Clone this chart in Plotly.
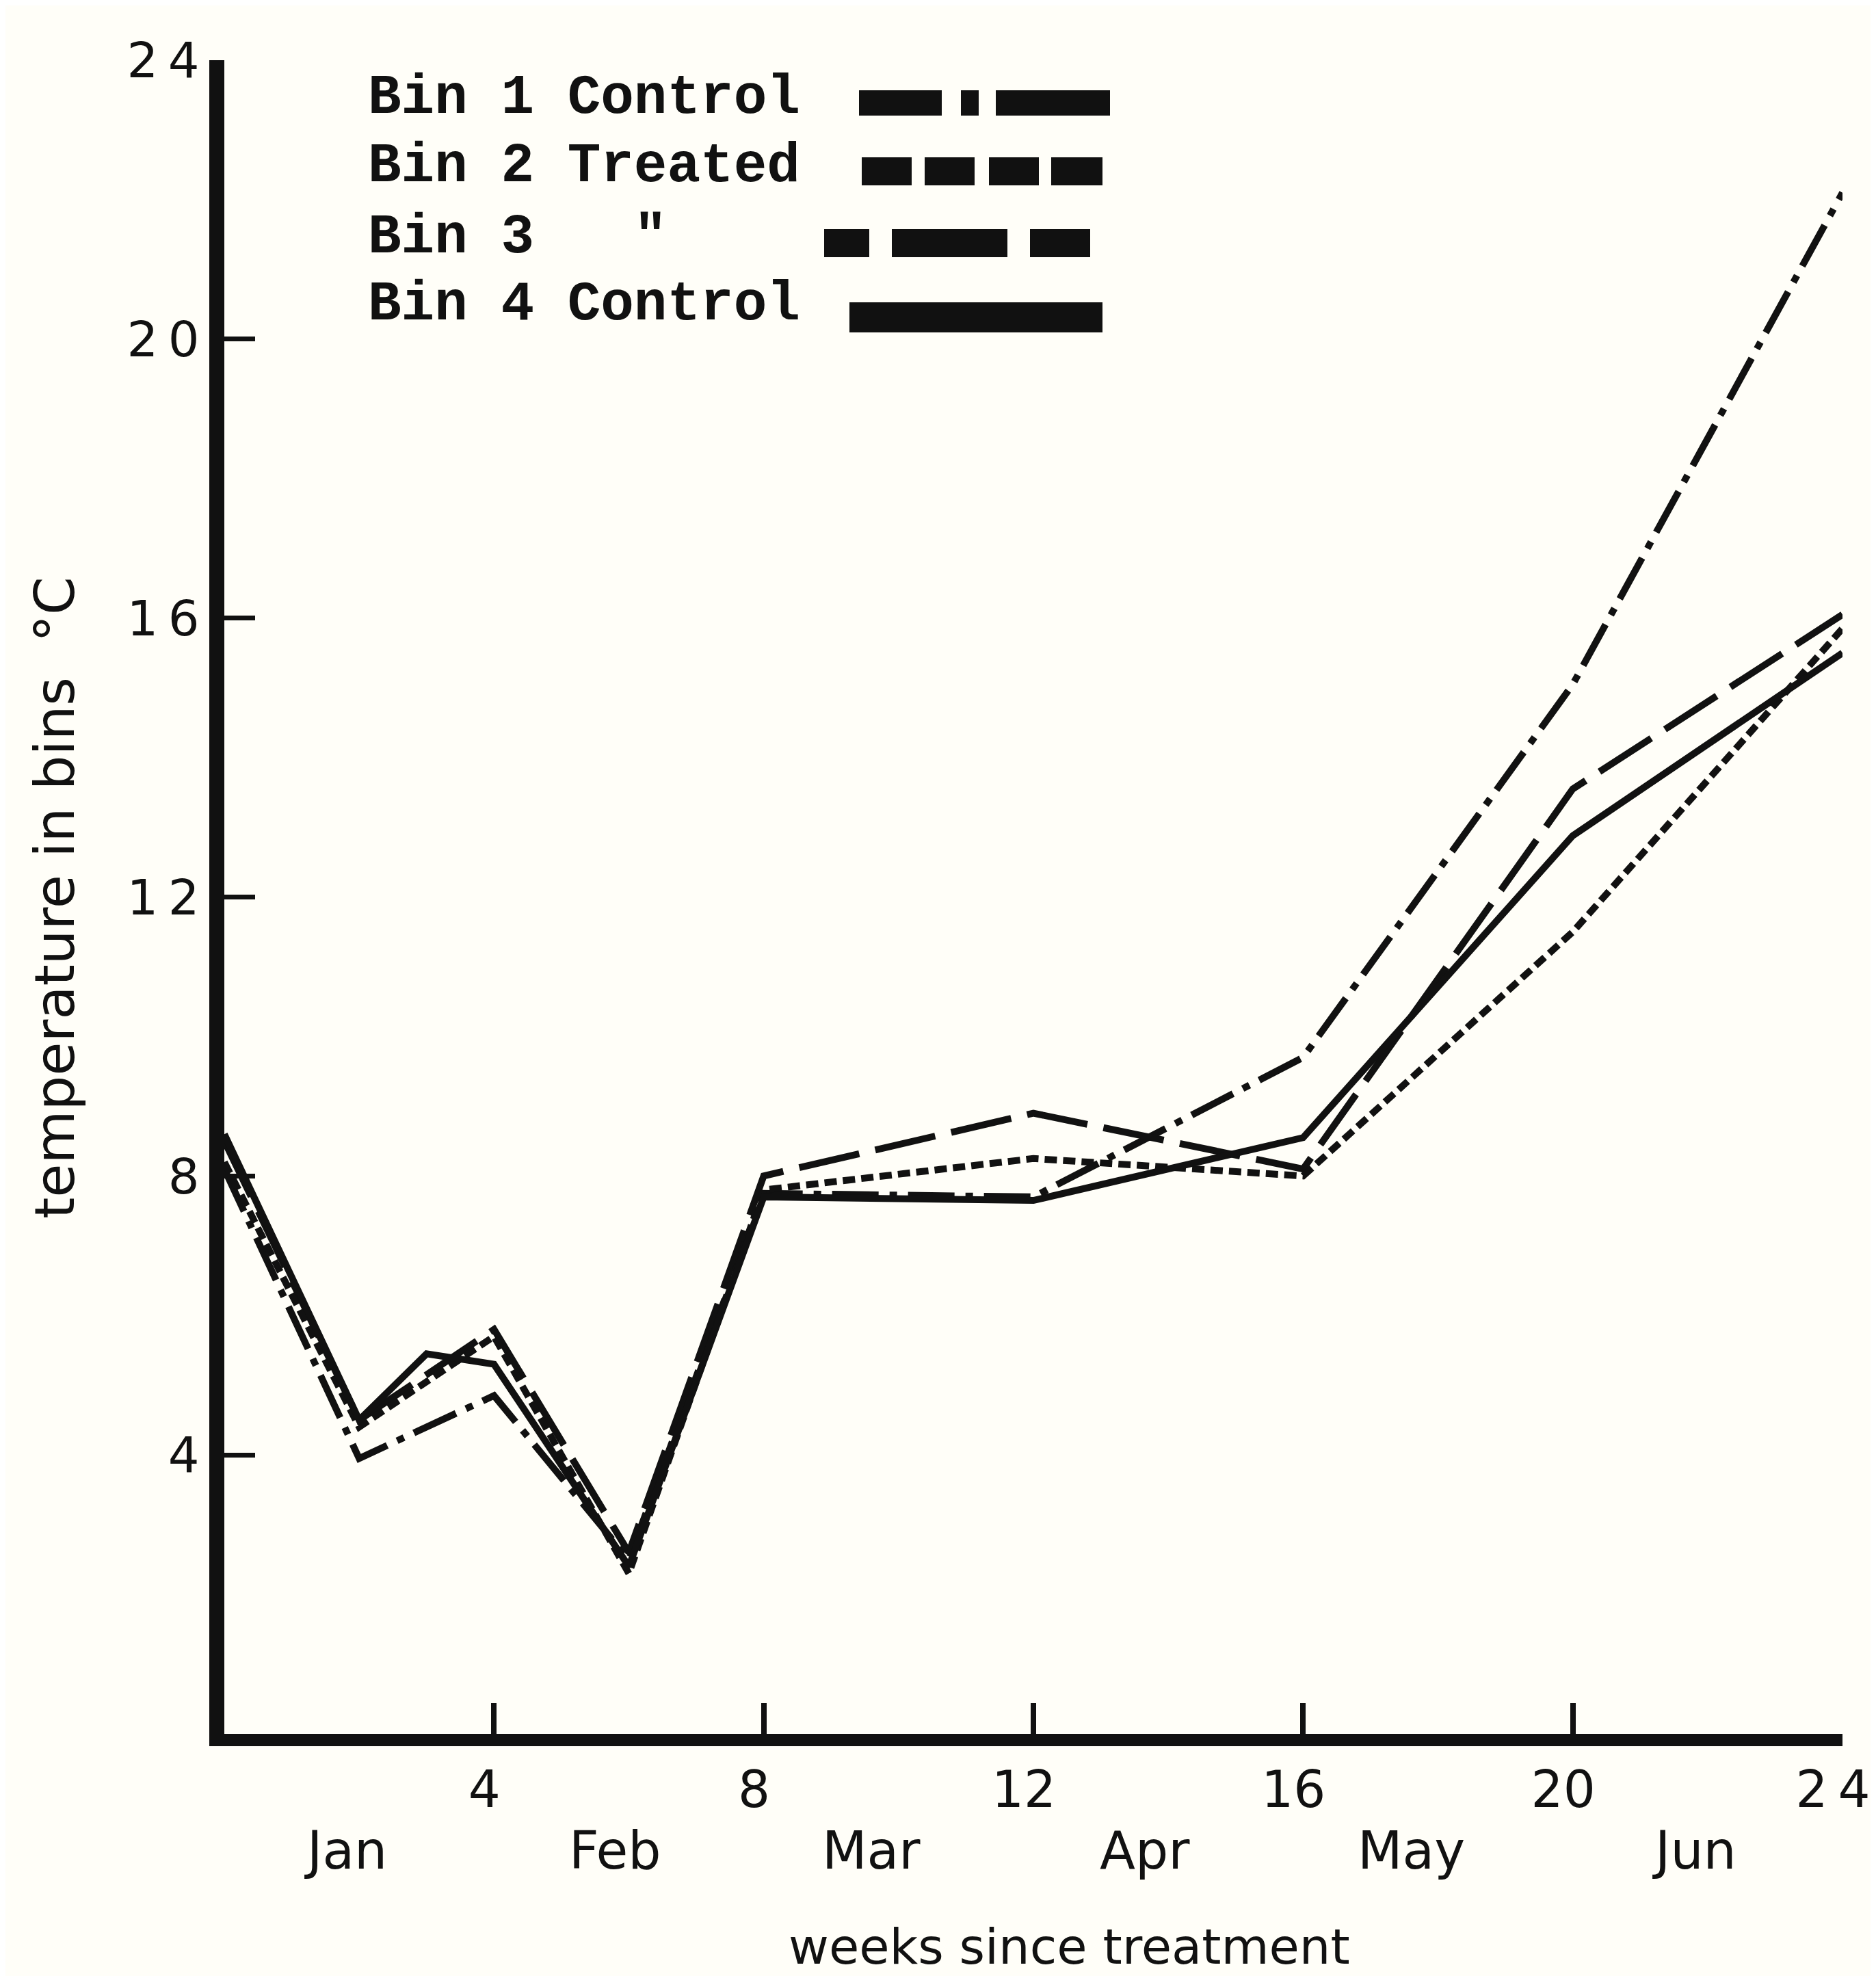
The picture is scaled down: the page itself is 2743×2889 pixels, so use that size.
import plotly.graph_objects as go

# ---------------- data ----------------
bin1_weeks = [0, 2, 4, 6, 8, 12, 16, 20, 24]
bin1_temp = [8.1, 3.95, 4.85, 2.5, 7.75, 7.7, 9.7, 15.05, 22.1]

bin2_weeks = [0, 2, 4, 6, 8, 12, 16, 20, 24]
bin2_temp = [8.5, 4.5, 5.8, 2.6, 8.0, 8.9, 8.1, 13.55, 16.05]

bin3_weeks = [0, 2, 4, 6, 8, 12, 16, 20, 24]
bin3_temp = [8.2, 4.4, 5.7, 2.3, 7.8, 8.25, 8.0, 11.5, 15.85]

bin4_weeks = [0, 2, 3, 4, 6, 8, 12, 16, 20, 24]
bin4_temp = [8.6, 4.5, 5.45, 5.3, 2.4, 7.7, 7.65, 8.55, 12.88, 15.5]

x_ticks = [4, 8, 12, 16, 20, 24]
x_ticktext = ["4", "8", "12", "16", "20", "2\u20094"]
y_ticks = [4, 8, 12, 16, 20, 24]
y_ticktext = ["4", "8", "1\u20092", "1\u20096", "2\u20090", "2\u20094"]

months = ["Jan", "Feb", "Mar", "Apr", "May", "Jun"]
month_pos = [1.8, 5.8, 9.6, 13.65, 17.6, 21.8]

legend_labels = ["Bin 1 Control", "Bin 2 Treated", "Bin 3   \"", "Bin 4 Control"]

# ---------------- layout geometry ----------------
FIG_W, FIG_H = 2743, 2889
L, R, T, B = 320, 2686, 80, 2527
PW, PH = R - L, B - T
INK = "#111111"
BG = "#fffef8"


def px(xp):
    return (xp - L) / PW


def py(yp):
    return (B - yp) / PH


fig = go.Figure()

styles = [
    ("Bin 1 Control", bin1_weeks, bin1_temp, "68px,16px,11px,16px", 10),
    ("Bin 2 Treated", bin2_weeks, bin2_temp, "90px,24px", 10),
    ("Bin 3 Treated", bin3_weeks, bin3_temp, "18px,9px", 10),
    ("Bin 4 Control", bin4_weeks, bin4_temp, "solid", 10),
]
for name, xs, ys, dash, w in styles:
    fig.add_trace(go.Scatter(
        x=xs, y=ys, mode="lines", name=name,
        line=dict(color=INK, width=w, dash=dash),
        showlegend=False,
    ))

sans = "DejaVu Sans"

fig.update_layout(
    width=FIG_W, height=FIG_H,
    margin=dict(l=L, r=FIG_W - R, t=T, b=FIG_H - B, autoexpand=False),
    paper_bgcolor=BG, plot_bgcolor=BG,
    showlegend=False,
    xaxis=dict(
        range=[0, 24], tickvals=x_ticks, ticktext=x_ticktext,
        ticks="inside", ticklen=45, tickwidth=8, tickcolor=INK,
        showline=True, linewidth=18, linecolor=INK,
        showgrid=False, zeroline=False, ticklabeloverflow="allow",
        ticklabelshift=-14,
        tickfont=dict(family=sans, size=74, color=INK),
    ),
    yaxis=dict(
        range=[0, 24], tickvals=y_ticks, ticktext=y_ticktext,
        ticks="inside", ticklen=45, tickwidth=7, tickcolor=INK,
        showline=True, linewidth=22, linecolor=INK,
        showgrid=False, zeroline=False, ticklabeloverflow="allow",
        tickfont=dict(family=sans, size=72, color=INK),
    ),
)

annotations = []
# month labels under the week ticks
for m, xpos in zip(months, month_pos):
    annotations.append(dict(
        x=xpos, xref="x", y=0, yref="paper", yshift=-(2697 - B),
        text=m, showarrow=False, xanchor="center", yanchor="middle",
        font=dict(family=sans, size=76, color=INK),
    ))
# axis titles
annotations.append(dict(
    x=px(1555), xref="paper", y=py(2838), yref="paper",
    text="weeks since treatment", showarrow=False,
    xanchor="center", yanchor="middle",
    font=dict(family=sans, size=72, color=INK),
))
annotations.append(dict(
    x=px(72), xref="paper", y=py(1305), yref="paper",
    text="temperature in bins  °C", showarrow=False, textangle=-90,
    xanchor="center", yanchor="middle",
    font=dict(family=sans, size=80, color=INK),
))
# legend text
leg_baselines = [165, 265, 370, 468]
for lab, bl in zip(legend_labels, leg_baselines):
    annotations.append(dict(
        x=px(528), xref="paper", y=py(bl - 30), yref="paper",
        text=lab, showarrow=False, xanchor="left", yanchor="middle",
        font=dict(family="Liberation Mono", size=81, color=INK, weight="bold"),
    ))
fig.update_layout(annotations=annotations)

# legend line samples (thick bars)
leg_samples = [
    ((124, 161), [(1248, 1369), (1397, 1423), (1448, 1615)]),
    ((222, 263), [(1252, 1325), (1344, 1417), (1438, 1511), (1529, 1604)]),
    ((327, 368), [(1197, 1263), (1296, 1465), (1498, 1586)]),
    ((434, 478), [(1234, 1604)]),
]
shapes = []
for (y0, y1), segs in leg_samples:
    for x0, x1 in segs:
        shapes.append(dict(
            type="rect", xref="paper", yref="paper",
            x0=px(x0), x1=px(x1), y0=py(y1), y1=py(y0),
            fillcolor=INK, line=dict(width=0),
        ))
fig.update_layout(shapes=shapes)

fig.write_html("out.html")
